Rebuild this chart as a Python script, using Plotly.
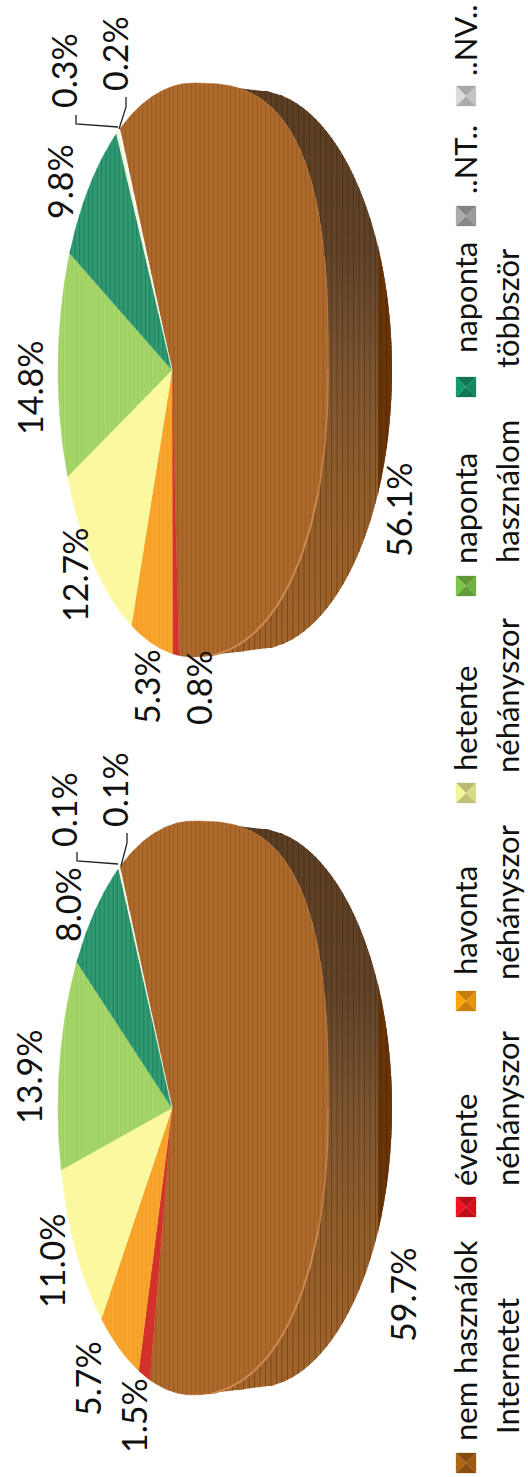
import numpy as np
import plotly.graph_objects as go

# Survey shares, in percent, for the two pies
categories = ["nem használok Internetet", "évente néhányszor", "havonta néhányszor",
              "hetente néhányszor", "naponta használom", "naponta többször", "..NT..", "..NV.."]
values_lower = [59.7, 1.5, 5.7, 11.0, 13.9, 8.0, 0.1, 0.1]
values_upper = [56.1, 0.8, 5.3, 12.7, 14.8, 9.8, 0.3, 0.2]
slice_colors = ["#ae6a2d", "#d2322a", "#f9a42a", "#fbf89f", "#a4d568", "#2f9a72", "#f6f2d8", "#fbfaf0"]
marker_colors = ["#9c5a12", "#d8101c", "#e8920c", "#d8dc88", "#70b040", "#128a60", "#9a9a9a", "#c4c4c4"]

W, H = 528, 1477
FONT = "Lato"
LABEL_SIZE = 34
LEGEND_SIZE = 31

# Projected disc: the near side of the pie faces right after the quarter turn
DISC_X0, DISC_A, DISC_P, DISC_B = 172.0, 131.7, 0.1556, 283.5
RIM_CX, RIM_A, RIM_B = 193.0, 135.0, 287.0
RIM_N_UPPER, RIM_N_LOWER = 2.8, 2.2
BASE_CX, BASE_A, BASE_B = 255.0, 137.0, 280.0
START_DEG = -25.0


def disc_point(tau_deg):
    t = np.radians(tau_deg)
    u, v = np.sin(t), -np.cos(t)
    x = DISC_X0 + DISC_A * u / (1 - DISC_P * u)
    y = DISC_B * v / (1 - DISC_P * u)
    # The near half of the rim bulges a little more than a true ellipse
    return np.where(x > RIM_CX, rim_x(y), x), y


def rim_x(rel):
    rel = np.asarray(rel, float)
    n = np.where(rel < 0, RIM_N_UPPER, RIM_N_LOWER)
    return RIM_CX + RIM_A * np.clip(1 - np.abs(rel / RIM_B) ** n, 0, 1) ** (1 / n)


def outer_x(rel):
    if abs(rel) <= BASE_B:
        return BASE_CX + BASE_A * np.sqrt(1 - (rel / BASE_B) ** 2)
    f = (RIM_B - abs(rel)) / (RIM_B - BASE_B)
    return RIM_CX + (BASE_CX - RIM_CX) * f


def hexrgb(c):
    return np.array([int(c[i:i + 2], 16) for i in (1, 3, 5)], float)


def tohex(rgb):
    return "#%02x%02x%02x" % tuple(int(np.clip(round(x), 0, 255)) for x in rgb)


WALL_STOPS = [(-287, "#5a3e23"), (-120, "#604328"), (0, "#7c5431"), (110, "#8f5c2a"), (287, "#a4642a")]


def wall_color(rel):
    rs = [s[0] for s in WALL_STOPS]
    cols = np.array([hexrgb(s[1]) for s in WALL_STOPS])
    return tohex([np.interp(rel, rs, cols[:, i]) for i in range(3)])


fig = go.Figure()


def poly(xs, ys, color, lw=0.5):
    fig.add_trace(go.Scatter(x=list(xs), y=list(ys), mode="lines", fill="toself", fillcolor=color,
                             line=dict(color=color, width=lw), hoverinfo="skip", showlegend=False))


def polyline(xs, ys, color, width):
    fig.add_trace(go.Scatter(x=list(xs), y=list(ys), mode="lines", line=dict(color=color, width=width),
                             hoverinfo="skip", showlegend=False, connectgaps=False))


def stripes(px, py, color, step):
    # Fine vertical ribbing clipped to a closed outline
    px, py = np.asarray(px, float), np.asarray(py, float)
    x2, y2 = np.roll(px, -1), np.roll(py, -1)
    sx, sy = [], []
    for x in np.arange(px.min() + 1, px.max(), step):
        hit = ((px <= x) & (x2 > x)) | ((x2 <= x) & (px > x))
        ys = np.sort(py[hit] + (x - px[hit]) * (y2[hit] - py[hit]) / (x2[hit] - px[hit]))
        for a, b in zip(ys[0::2], ys[1::2]):
            sx += [x, x, None]
            sy += [a, b, None]
    polyline(sx, sy, color, 1)


def draw_pie(values, cy):
    # Side wall, built from thin horizontal bands so its shade can drift
    step = 4
    rels = np.arange(-RIM_B, RIM_B, step)
    for r in rels:
        r2 = min(r + step + 1, RIM_B)
        rx1, rx2 = float(rim_x(r)), float(rim_x(r2))
        poly([rx1, outer_x(r), outer_x(r2), rx2],
             [cy + r, cy + r, cy + r2, cy + r2], wall_color(r + step / 2), 0)
        cut = 378.0
        if outer_x(r) > cut or outer_x(r2) > cut:
            poly([max(cut, rx1), max(cut, outer_x(r)), max(cut, outer_x(r2)), max(cut, rx2)],
                 [cy + r, cy + r, cy + r2, cy + r2], "#693508", 0)
    rr = np.linspace(-RIM_B, RIM_B, 280)
    wall_x = [float(rim_x(r)) for r in rr] + [outer_x(r) for r in rr[::-1]]
    wall_y = [cy + r for r in rr] + [cy + r for r in rr[::-1]]
    stripes(wall_x, wall_y, "rgba(45,22,4,0.34)", 5.5)

    # Top face: one wedge per value, clockwise from the start angle
    edges = START_DEG + np.cumsum([0] + list(values)) * 3.6
    for i, col in enumerate(slice_colors):
        taus = np.linspace(edges[i], edges[i + 1], max(3, int((edges[i + 1] - edges[i]) * 4)))
        ex, ey = disc_point(taus)
        px = np.r_[DISC_X0, ex]
        py = np.r_[cy, cy + ey]
        poly(px, py, col, 0.5)
        if i == 0:
            stripes(px, py, "rgba(120,62,12,0.34)", 4.4)
        elif i == 5:
            stripes(px, py, "rgba(10,70,50,0.30)", 4.4)
        elif i in (2, 4):
            stripes(px, py, "rgba(120,110,20,0.08)", 4.4)

    # Pale highlight along the near edge of the top face, fading in from the upper side
    for t0, t1, shade, lw in ((70, 90, "#b0743a", 1.5), (90, 112, "#bc7e44", 2), (112, 165, "#cc8a50", 2)):
        hx, hy = disc_point(np.linspace(t0, t1, 40))
        polyline(hx, cy + hy, shade, lw)


draw_pie(values_upper, 370)
draw_pie(values_lower, 1108)

# Leader lines for the two thinnest slices
LEADERS = [([76, 76, 118], [115, 124, 127]), ([126, 126, 119], [97, 107, 129]),
           ([77, 77, 118], [852, 861, 864]), ([127, 127, 121], [833, 843, 866])]
for lx, ly in LEADERS:
    polyline(lx, ly, "#222222", 1.3)

annotations = []


def text(s, x, y, size):
    annotations.append(dict(text=s, x=x, y=y, xref="x", yref="y", showarrow=False, textangle=-90,
                            xanchor="center", yanchor="middle", font=dict(family=FONT, size=size, color="#111111")))


# Label anchors, in series order
upper_label_pos = [(398, 510), (198, 688), (146, 687), (74, 575), (29, 388), (59, 182), (63, 71), (114, 54)]
lower_label_pos = [(402, 1295), (133, 1416), (87, 1379), (51, 1261), (28, 1077), (67, 905), (63, 810), (114, 790)]
for vals, pos in ((values_upper, upper_label_pos), (values_lower, lower_label_pos)):
    for v, (x, y) in zip(vals, pos):
        text(f"{v:.1f}%", x, y, LABEL_SIZE)

# Legend, laid out by hand because its entries read sideways
legend_lines = [["nem használok", "Internetet"], ["évente", "néhányszor"], ["havonta", "néhányszor"],
                ["hetente", "néhányszor"], ["naponta", "használom"], ["naponta", "többször"], ["..NT.."], ["..NV.."]]
marker_y = [1463, 1207, 1001, 793, 586, 387, 216, 96]
line_y = [(1341, 1366), (1140, 1108), (921, 902), (719, 695), (509, 492), (298, 308), (160,), (40,)]
for lines, my, ly, col in zip(legend_lines, marker_y, line_y, marker_colors):
    s = 10
    mx = 466
    base = hexrgb(col)
    corners = [(mx - s, my - s), (mx + s, my - s), (mx + s, my + s), (mx - s, my + s)]
    shades = [0.85, 1.0, 0.88, 1.12]
    for k in range(4):
        a, b = corners[k], corners[(k + 1) % 4]
        poly([a[0], b[0], mx], [a[1], b[1], my], tohex(base * shades[k]), 0.3)
    for t, y, x in zip(lines, ly, (465, 507)):
        text(t, x, y, LEGEND_SIZE)

fig.update_layout(
    width=W, height=H, margin=dict(l=0, r=0, t=0, b=0), paper_bgcolor="white", plot_bgcolor="white",
    xaxis=dict(range=[0, W], visible=False, fixedrange=True),
    yaxis=dict(range=[H, 0], visible=False, fixedrange=True),
    annotations=annotations, showlegend=False,
)
fig.write_html("out.html", config=dict(displayModeBar=False))
